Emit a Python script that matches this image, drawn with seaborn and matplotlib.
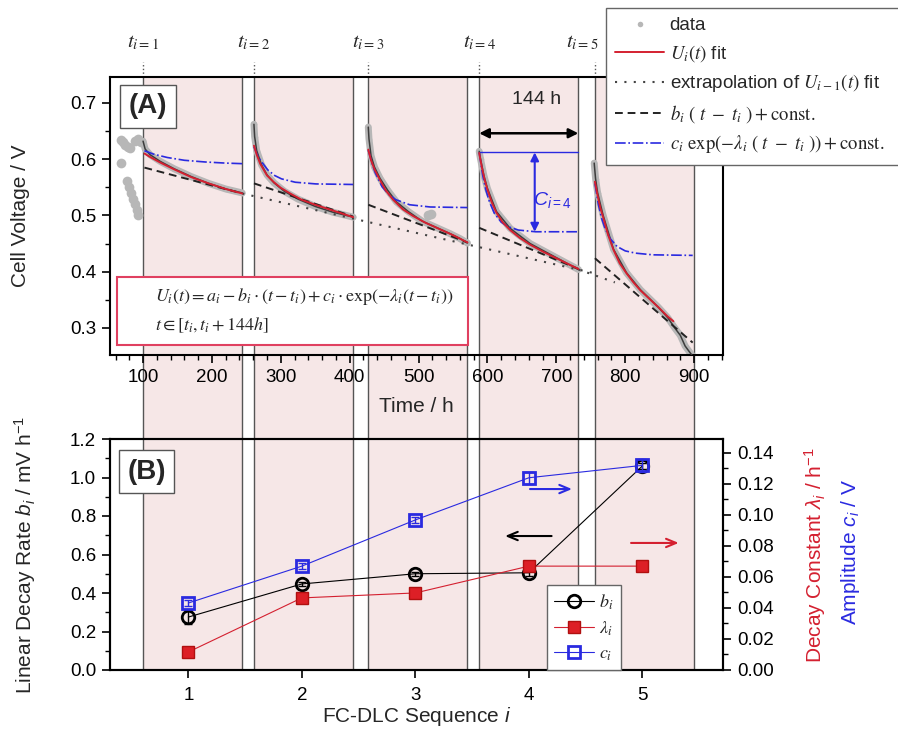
import numpy as np
import matplotlib
matplotlib.use("Agg")
import matplotlib.pyplot as plt
import seaborn as sns
from matplotlib.lines import Line2D
from matplotlib.patches import Rectangle
from matplotlib.ticker import MultipleLocator, FormatStrFormatter

sns.set_theme(style="ticks")
plt.rcParams["font.family"] = ["Liberation Sans", "DejaVu Sans"]
plt.rcParams["mathtext.fontset"] = "custom"
plt.rcParams["mathtext.rm"] = "Liberation Sans"
plt.rcParams["mathtext.it"] = "Liberation Sans:italic"
plt.rcParams["mathtext.bf"] = "Liberation Sans:bold"
plt.rcParams["axes.edgecolor"] = "black"
plt.rcParams["xtick.color"] = "black"
plt.rcParams["ytick.color"] = "black"

# =========================
# DATA
# =========================
t_start = [100, 261, 427, 588, 756]   # start of each FC-DLC window / h
window = 144

# measured voltage before first window + a few stray points
pre_t = [68, 71, 74, 78, 81, 89, 93, 97, 68, 76, 79, 82, 85, 88, 91, 93, 513, 518]
pre_v = [0.634, 0.630, 0.626, 0.622, 0.620, 0.632, 0.636, 0.630, 0.594,
         0.562, 0.550, 0.540, 0.530, 0.520, 0.510, 0.500, 0.500, 0.503]

# measured voltage inside each window
data_t = [
    [100, 103, 110, 125, 145, 170, 195, 220, 244],
    [261, 262, 265, 272, 280, 290, 305, 325, 350, 375, 405],
    [427, 428, 431, 436, 444, 455, 468, 485, 505, 525, 545, 560, 571],
    [588, 590, 595, 600, 613, 633, 662, 700, 732],
    [755, 757, 760, 768, 783, 802, 822, 848, 862, 872, 880, 887, 893, 898],
]
data_v = [
    [0.632, 0.618, 0.608, 0.596, 0.583, 0.569, 0.557, 0.547, 0.540],
    [0.662, 0.640, 0.615, 0.590, 0.572, 0.558, 0.543, 0.529, 0.516, 0.506, 0.497],
    [0.657, 0.636, 0.606, 0.586, 0.566, 0.545, 0.524, 0.507, 0.490, 0.479, 0.468, 0.459, 0.451],
    [0.614, 0.600, 0.570, 0.548, 0.507, 0.477, 0.450, 0.425, 0.404],
    [0.593, 0.565, 0.540, 0.500, 0.440, 0.398, 0.368, 0.337, 0.318, 0.300,
     0.287, 0.268, 0.258, 0.250],
]

# U_i(t) fit
fit_t = [
    [102, 110, 125, 145, 170, 195, 220, 244],
    [261, 265, 270, 280, 290, 300, 315, 330, 350, 370, 390, 405],
    [427, 431, 436, 444, 452, 463, 477, 492, 510, 530, 550, 571],
    [588, 592, 596, 600, 606, 613, 622, 633, 647, 662, 680, 700, 720, 732],
    [756, 760, 764, 768, 775, 783, 792, 802, 812, 822, 835, 848, 862, 870],
]
fit_v = [
    [0.610, 0.604, 0.594, 0.582, 0.568, 0.557, 0.547, 0.539],
    [0.624, 0.608, 0.592, 0.571, 0.559, 0.549, 0.538, 0.528, 0.519, 0.511, 0.503, 0.497],
    [0.617, 0.598, 0.582, 0.563, 0.545, 0.528, 0.511, 0.499, 0.487, 0.476, 0.465, 0.452],
    [0.611, 0.585, 0.563, 0.546, 0.524, 0.505, 0.488, 0.474, 0.460, 0.448, 0.436,
     0.424, 0.412, 0.405],
    [0.560, 0.535, 0.513, 0.497, 0.466, 0.439, 0.415, 0.397, 0.381, 0.367, 0.352,
     0.337, 0.320, 0.312],
]

# c_i exp(-lambda_i (t - t_i)) + const.
exp_t = [
    [102, 115, 135, 160, 190, 220, 244],
    [261, 266, 271, 281, 291, 301, 321, 351, 405],
    [427, 432, 437, 447, 457, 467, 487, 517, 571],
    [588, 593, 598, 603, 610, 620, 630, 645, 670, 732],
    [756, 761, 766, 771, 778, 788, 800, 815, 840, 898],
]
exp_v = [
    [0.615, 0.609, 0.603, 0.598, 0.595, 0.593, 0.592],
    [0.622, 0.607, 0.597, 0.581, 0.571, 0.565, 0.559, 0.556, 0.555],
    [0.616, 0.594, 0.576, 0.551, 0.537, 0.528, 0.519, 0.515, 0.514],
    [0.612, 0.572, 0.544, 0.524, 0.504, 0.488, 0.480, 0.474, 0.471, 0.471],
    [0.557, 0.520, 0.494, 0.476, 0.459, 0.445, 0.437, 0.433, 0.430, 0.429],
]

# b_i (t - t_i) + const.
lin_t = [[102, 244], [261, 405], [427, 571], [588, 732], [756, 898]]
lin_v = [[0.585, 0.539], [0.557, 0.498], [0.519, 0.452], [0.478, 0.405], [0.424, 0.274]]

# extrapolation of previous fit
ext_t = [[244, 760], [732, 785]]
ext_v = [[0.539, 0.396], [0.404, 0.381]]

# panel B
seq = [1, 2, 3, 4, 5]
b_rate = [0.275, 0.447, 0.500, 0.505, 1.06]       # mV/h
b_err = [0.035, 0.012, 0.010, 0.015, 0.015]
lam = [0.0116, 0.0465, 0.0497, 0.067, 0.067]       # 1/h
amp = [0.0432, 0.067, 0.0968, 0.124, 0.132]        # V
amp_err = [0.002, 0.002, 0.002, 0.004, 0.004]

# =========================
# FIGURE
# =========================
W, H = 898, 738
RED = "#d42030"
BLUE = "#2a2ae0"
PINK = "#f6e7e7"
GRAY = "#b7b7b7"


def box(x0, y0, x1, y1):
    return [x0 / W, 1 - y1 / H, (x1 - x0) / W, (y1 - y0) / H]


fig = plt.figure(figsize=(W / 100, H / 100), dpi=100)
bg = fig.add_axes(box(110, 77, 723, 670), zorder=0)
axA = fig.add_axes(box(110, 77, 723, 355), zorder=1)
axB = fig.add_axes(box(110, 439, 723, 670), zorder=1)
axB2 = axB.twinx()
axB2.set_zorder(2)
for a in (axA, axB, axB2):
    a.patch.set_visible(False)

xlimA = (52, 942)

# background windows shared by both panels
bg.set_xlim(xlimA)
bg.set_ylim(0, 1)
bg.axis("off")
for t0 in t_start:
    bg.axvspan(t0, t0 + window, color=PINK, lw=0)
    bg.axvline(t0, color="#555555", lw=1)
    bg.axvline(t0 + window, color="#555555", lw=1)

# ---------- panel A ----------
axA.set_xlim(xlimA)
axA.set_ylim(0.252, 0.746)
axA.plot(pre_t, pre_v, "o", color=GRAY, ms=7, mec="none", zorder=2)
for i in range(5):
    axA.plot(data_t[i], data_v[i], color=GRAY, lw=5, marker="o", ms=4, mec="none",
             solid_capstyle="round", zorder=2)
    axA.plot(data_t[i], data_v[i], color="#3c3c3c", lw=1.1, zorder=3)
    axA.plot(fit_t[i], fit_v[i], color=RED, lw=1.4, zorder=4)
    axA.plot(exp_t[i], exp_v[i], color=BLUE, lw=1.2, ls="-.", zorder=3)
    axA.plot(lin_t[i], lin_v[i], color="#222222", lw=1.4, ls=(0, (4, 2.5)), zorder=3)
for i in range(len(ext_t)):
    axA.plot(ext_t[i], ext_v[i], color="#444444", lw=1.5, ls=(0, (1, 3.5)), zorder=3)

# t_i labels above panel A (last one nudged left, clear of the legend)
xtr = axA.get_xaxis_transform()
for i, t0 in enumerate(t_start):
    axA.plot([t0, t0], [1.0, 1.055], transform=xtr, ls=":", color="#555555", lw=1,
             clip_on=False)
    nudge = -19 if i == len(t_start) - 1 else 0
    axA.text(t0 + nudge, 1.125, rf"$t_{{i={i + 1}}}$", transform=xtr, ha="center",
             va="center", fontsize=15, math_fontfamily="stix")

# 144 h window arrow
axA.annotate("", xy=(t_start[3], 0.646), xytext=(t_start[3] + window, 0.646),
             arrowprops=dict(arrowstyle="<|-|>", color="black", lw=1.8, shrinkA=0,
                             shrinkB=0, mutation_scale=14))
axA.text(t_start[3] + window * 0.58, 0.706, "144 h", ha="center", va="center", fontsize=14)

# amplitude c_{i=4}
axA.plot([t_start[3], t_start[3] + window], [exp_v[3][0], exp_v[3][0]], color=BLUE, lw=1)
xc = t_start[3] + window * 0.56
axA.annotate("", xy=(xc, exp_v[3][0]), xytext=(xc, exp_v[3][-1]),
             arrowprops=dict(arrowstyle="<|-|>", color=BLUE, lw=1.5, shrinkA=0,
                             shrinkB=0, mutation_scale=12))
axA.text(t_start[3] + window * 0.74, 0.528, r"$C_{i=4}$", color=BLUE, fontsize=14,
         ha="center", va="center")

# formula box
axA.add_patch(Rectangle((0.0114, 0.036), 0.573, 0.245, transform=axA.transAxes,
                        fc="white", ec="#e04060", lw=1.5, zorder=6))
axA.text(0.073, 0.209,
         r"$U_i(t) = a_i - b_i \cdot (t - t_i) + c_i \cdot \exp(-\lambda_i(t - t_i))$",
         transform=axA.transAxes, fontsize=13, va="center", math_fontfamily="stix", zorder=7)
axA.text(0.073, 0.108, r"$t \in [t_i, t_i + 144h]$", transform=axA.transAxes,
         fontsize=13, va="center", math_fontfamily="stix", zorder=7)

axA.text(0.062, 0.894, "(A)", transform=axA.transAxes, ha="center", va="center",
         fontsize=20, fontweight="bold", zorder=7,
         bbox=dict(boxstyle="square,pad=0.3", fc="white", ec="#555555", lw=1))

axA.set_xticks(range(100, 1000, 100))
axA.xaxis.set_minor_locator(MultipleLocator(20))
axA.set_yticks([0.3, 0.4, 0.5, 0.6, 0.7])
axA.yaxis.set_minor_locator(MultipleLocator(0.05))
axA.set_xlabel("Time / h", fontsize=15, labelpad=8)
axA.set_ylabel("Cell Voltage / V", fontsize=15)
axA.yaxis.set_label_coords(-0.13, 0.5)

# ---------- panel B ----------
axB.set_xlim(0.31, 5.71)
axB.set_ylim(0, 1.2)
axB2.set_ylim(0, 0.149)

sns.lineplot(x=seq, y=b_rate, ax=axB, color="black", lw=0.8, marker="o", markersize=9,
             markerfacecolor="none", markeredgecolor="black", markeredgewidth=2, zorder=4)
axB.errorbar(seq, b_rate, yerr=b_err, fmt="none", ecolor="black", elinewidth=1, capsize=3,
             zorder=3)
sns.lineplot(x=seq, y=lam, ax=axB2, color=RED, lw=0.8, marker="s", markersize=8,
             markerfacecolor="#dd1f26", markeredgecolor="#b01010", markeredgewidth=1,
             zorder=4)
sns.lineplot(x=seq, y=amp, ax=axB2, color=BLUE, lw=0.8, marker="s", markersize=8,
             markerfacecolor="none", markeredgecolor=BLUE, markeredgewidth=2, zorder=4)
axB2.errorbar(seq, amp, yerr=amp_err, fmt="none", ecolor=BLUE, elinewidth=1, capsize=3,
              zorder=3)

arrow = dict(arrowstyle="->,head_length=0.6,head_width=0.25", lw=1.5, shrinkA=0, shrinkB=0)
axB.annotate("", xy=(4.38, 0.94), xytext=(4.01, 0.94), arrowprops=dict(arrow, color=BLUE))
axB.annotate("", xy=(3.79, 0.696), xytext=(4.2, 0.696), arrowprops=dict(arrow, color="black"))
axB.annotate("", xy=(5.32, 0.66), xytext=(4.9, 0.66), arrowprops=dict(arrow, color=RED))

axB.text(0.060, 0.859, "(B)", transform=axB.transAxes, ha="center", va="center",
         fontsize=20, fontweight="bold", zorder=7,
         bbox=dict(boxstyle="square,pad=0.3", fc="white", ec="#555555", lw=1))

axB.set_xticks(seq)
axB.set_yticks(np.arange(0, 1.21, 0.2))
axB.yaxis.set_major_formatter(FormatStrFormatter("%.1f"))
axB.yaxis.set_minor_locator(MultipleLocator(0.1))
axB2.set_yticks(np.arange(0, 0.141, 0.02))
axB2.yaxis.set_major_formatter(FormatStrFormatter("%.2f"))
axB2.yaxis.set_minor_locator(MultipleLocator(0.01))
axB.set_xlabel(r"FC-DLC Sequence $i$", fontsize=15, labelpad=1)
axB.set_ylabel(r"Linear Decay Rate $b_i$ / mV h$^{-1}$", fontsize=15)
axB.yaxis.set_label_coords(-0.118, 0.5)
axB2.set_ylabel("")
fig.text(815 / W, 1 - 555 / H, r"Decay Constant $\lambda_i$ / h$^{-1}$", rotation=90,
         color=RED, fontsize=15, ha="center", va="center")
fig.text(851 / W, 1 - 552 / H, r"Amplitude $c_i$ / V", rotation=90, color=BLUE,
         fontsize=15, ha="center", va="center")

# ticks and spines
for a in (axA, axB, axB2):
    a.tick_params(which="major", direction="out", length=6, width=1.2, labelsize=13.5, pad=4)
    a.tick_params(which="minor", direction="out", length=3.5, width=1)
    for s in a.spines.values():
        s.set_linewidth(1.5)
        s.set_color("black")
axA.tick_params(which="both", top=False, right=False)
axB.tick_params(which="both", top=False, right=False)
axB.tick_params(axis="x", which="major", pad=6)
axB.xaxis.set_minor_locator(plt.NullLocator())

# legends
legA_handles = [
    Line2D([], [], ls="none", marker="o", ms=4, color=GRAY, mec="none"),
    Line2D([], [], color=RED, lw=1.4),
    Line2D([], [], color="#444444", lw=1.5, ls=(0, (1, 3.5))),
    Line2D([], [], color="#222222", lw=1.4, ls=(0, (4, 2.5))),
    Line2D([], [], color=BLUE, lw=1.2, ls="-."),
]
legA_labels = [
    "data",
    r"$U_i(t)$ fit",
    r"extrapolation of $U_{i-1}(t)$ fit",
    r"$b_i\ (\ t\ -\ t_i\ ) + \mathrm{const.}$",
    r"$c_i\ \exp(-\lambda_i\ (\ t\ -\ t_i\ )) + \mathrm{const.}$",
]
legA = fig.legend(legA_handles, legA_labels, loc="upper left",
                  bbox_to_anchor=(606 / W, 1 - 165 / H, 310 / W, 157 / H), mode="expand",
                  borderaxespad=0, fontsize=13.5,
                  frameon=True, fancybox=False, framealpha=1, edgecolor="#666666",
                  handlelength=2.6, handletextpad=0.3, labelspacing=0.45, borderpad=0.5)
legA.get_frame().set_linewidth(1)
for t in legA.get_texts():
    t.set_math_fontfamily("stix")

legB_handles = [
    Line2D([], [], color="black", lw=0.8, marker="o", ms=9, mfc="none", mec="black", mew=2),
    Line2D([], [], color=RED, lw=0.8, marker="s", ms=8, mfc="#dd1f26", mec="#b01010"),
    Line2D([], [], color=BLUE, lw=0.8, marker="s", ms=8, mfc="none", mec=BLUE, mew=2),
]
legB = axB2.legend(legB_handles, [r"$b_i$", r"$\lambda_i$", r"$c_i$"], loc="upper left",
                   bbox_to_anchor=(547 / W, 1 - 585 / H), bbox_transform=fig.transFigure,
                   borderaxespad=0, fontsize=13, frameon=True, fancybox=False, framealpha=1,
                   edgecolor="#666666", handlelength=2.2, handletextpad=0.3,
                   labelspacing=0.42, borderpad=0.4)
legB.get_frame().set_linewidth(1)
for t in legB.get_texts():
    t.set_math_fontfamily("stix")

fig.savefig("out.png", dpi=100)
